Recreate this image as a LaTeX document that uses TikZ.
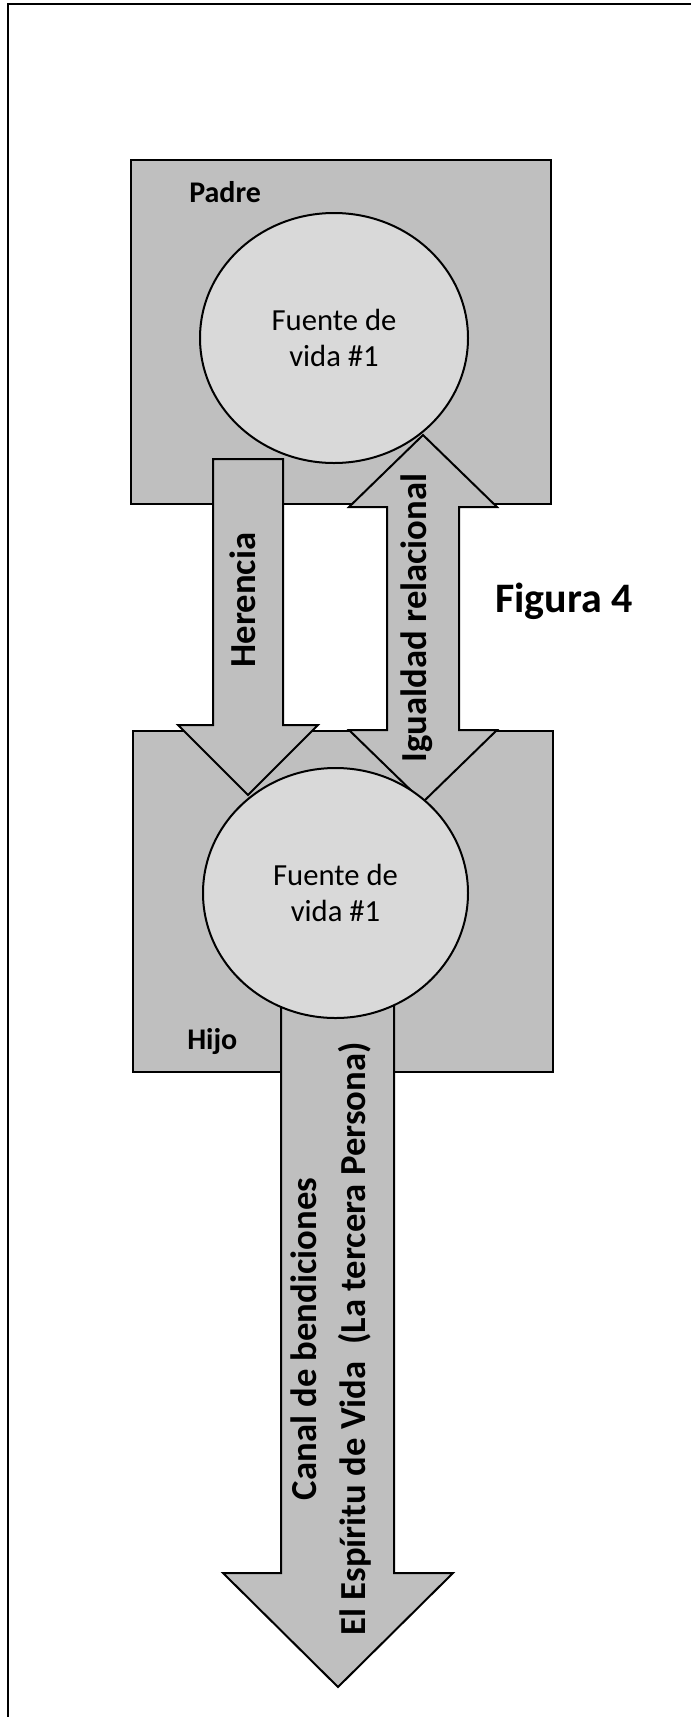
\documentclass[tikz,border=0pt]{standalone}
\usepackage{fontspec}
\setmainfont{Carlito}
\usetikzlibrary{shapes.geometric}
\definecolor{grisoscuro}{HTML}{BFBFBF}
\definecolor{grisclaro}{HTML}{D9D9D9}
\tikzset{
  caja/.style={draw, line width=1.5pt, fill=grisoscuro, minimum width=315pt, inner sep=0pt},
  fuente/.style={ellipse, draw, line width=1.5pt, fill=grisclaro, inner sep=0pt, align=center, font=\fontsize{23}{27.5}\selectfont},
  flecha/.style={draw, line width=1.5pt, fill=grisoscuro, line join=miter},
  rotulo/.style={font=\bfseries\fontsize{22.5}{27}\selectfont, inner sep=0pt},
  texflecha/.style={rotate=90, align=center, inner sep=0pt, font=\bfseries\fontsize{27.5}{36.75}\selectfont}
}
\begin{document}
\begin{tikzpicture}[x=0.75pt, y=-0.75pt]
\useasboundingbox (0,0) rectangle (691,1717);
% marco
\draw[line width=1.5pt] (8,1717) -- (8,4) -- (691,4);
% cajas
\node[caja, minimum height=258pt] at (341,332) (padre) {};
\node[caja, minimum height=255.75pt] at (343,901.5) (hijo) {};
% flechas
\draw[flecha] (213,459) -- (283,459) -- (283,725) -- (318,725) -- (248,795) -- (178,725) -- (213,725) -- cycle;
\draw[flecha] (423,435) -- (497,507) -- (459,507) -- (459,730) -- (497,730) -- (423,802) -- (349,730) -- (387,730) -- (387,507) -- (349,507) -- cycle;
\draw[flecha] (281,960) -- (394,960) -- (394,1573) -- (453,1573) -- (338,1687) -- (223,1573) -- (281,1573) -- cycle;
% fuentes de vida
\node[fuente, minimum width=201pt, minimum height=187.5pt] at (334,338) (fuentePadre) {Fuente de\\vida \#1};
\node[fuente, minimum width=198.75pt, minimum height=187.5pt] at (335.5,893) (fuenteHijo) {Fuente de\\vida \#1};
% textos
\node[rotulo, anchor=base west] at (189,202) (lblPadre) {Padre};
\node[rotulo, anchor=base west] at (187,1049) (lblHijo) {Hijo};
\node[texflecha] at (243,600) (herencia) {Herencia};
\node[texflecha] at (417,618) (igualdad) {Igualdad relacional};
\node[texflecha] at (331,1339) (canal) {Canal de bendiciones\\El Espíritu de Vida~ (La tercera Persona)};
\node[font=\bfseries\fontsize{31.5}{38}\selectfont, anchor=base west, inner sep=0pt] at (495,612) (figura) {Figura 4};
\end{tikzpicture}
\end{document}
